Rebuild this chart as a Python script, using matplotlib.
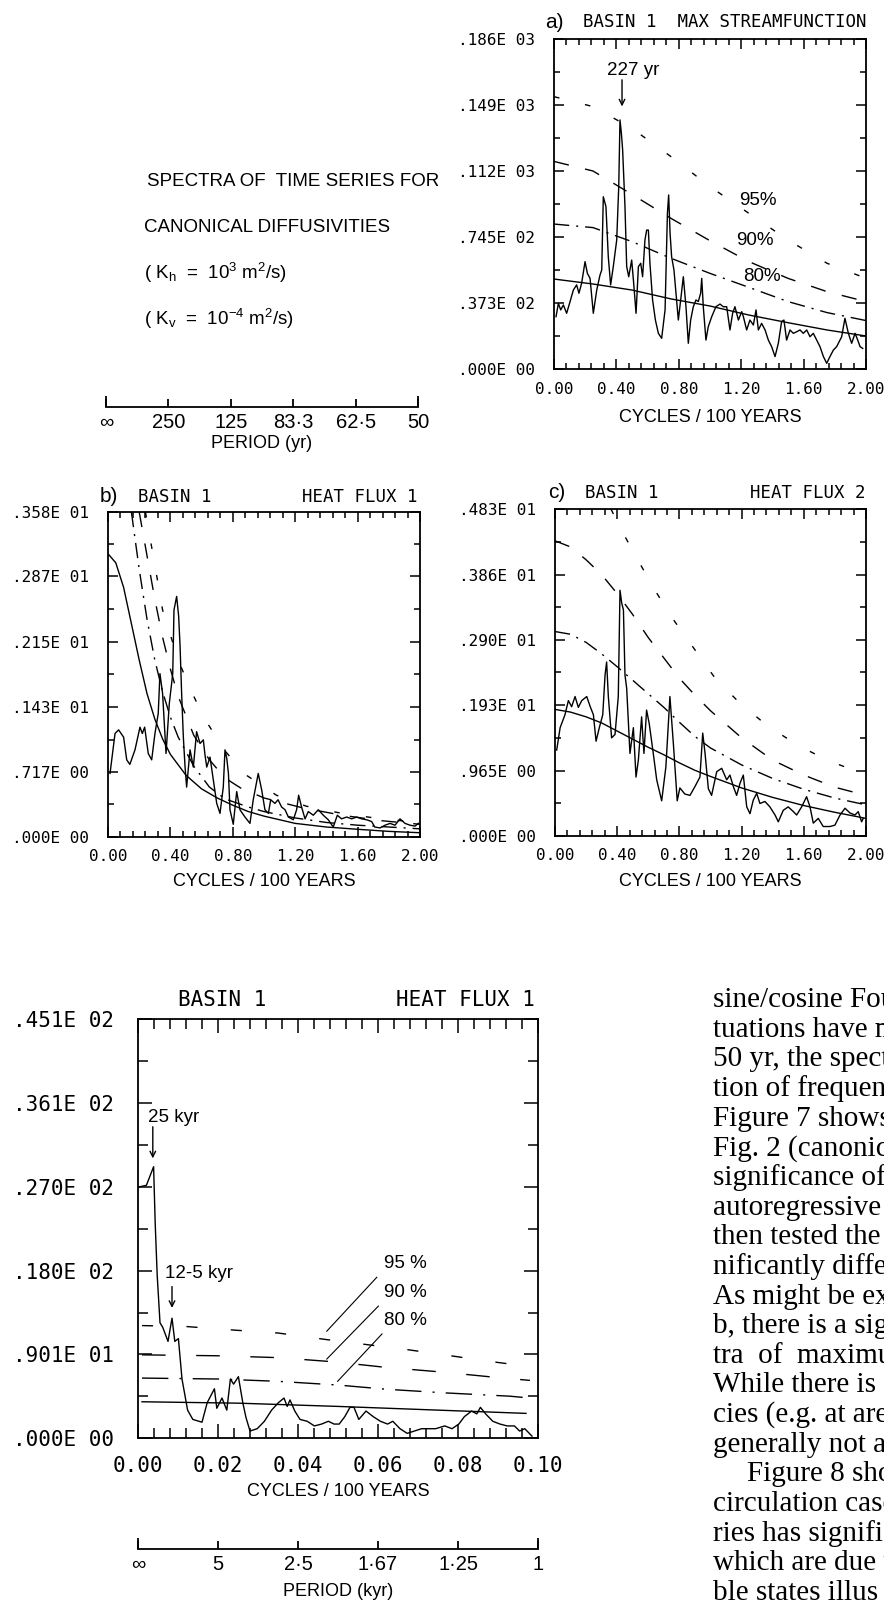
import matplotlib
matplotlib.use("Agg")
import matplotlib.pyplot as plt
from matplotlib.ticker import FixedLocator, FixedFormatter, MultipleLocator, FormatStrFormatter

plt.rcParams['lines.scale_dashes'] = False
plt.rcParams['mathtext.default'] = 'regular'
plt.rcParams['axes.linewidth'] = 1.3

W, H = 884, 1604
MONO = 'DejaVu Sans Mono'
SANS = ['Liberation Sans', 'DejaVu Sans']
SERIF = 'Liberation Serif'

# ---------------- panel a : max streamfunction ----------------
a_freq = [0.013, 0.028, 0.043, 0.060, 0.081, 0.103, 0.124, 0.145, 0.160, 0.177,
          0.199, 0.214, 0.231, 0.252, 0.274, 0.295, 0.306, 0.316, 0.333, 0.348,
          0.363, 0.380, 0.402, 0.415, 0.423, 0.432, 0.440, 0.455, 0.466, 0.479,
          0.498, 0.509, 0.526, 0.541, 0.556, 0.568, 0.583, 0.594, 0.605, 0.615,
          0.632, 0.650, 0.669, 0.690, 0.712, 0.727, 0.735, 0.744, 0.754, 0.769,
          0.782, 0.797, 0.812, 0.829, 0.846, 0.861, 0.876, 0.893, 0.910, 0.925,
          0.940, 0.947, 0.957, 0.974, 0.989, 1.011, 1.038, 1.064, 1.085, 1.107,
          1.128, 1.145, 1.160, 1.182, 1.203, 1.214, 1.235, 1.256, 1.278, 1.295,
          1.310, 1.331, 1.353, 1.374, 1.395, 1.417, 1.438, 1.459, 1.474, 1.491,
          1.513, 1.534, 1.556, 1.577, 1.598, 1.620, 1.641, 1.662, 1.684, 1.705,
          1.727, 1.748, 1.769, 1.791, 1.812, 1.844, 1.865, 1.887, 1.908, 1.930,
          1.947, 1.962, 1.979]
a_power = [29.5, 37.0, 33.3, 36.1, 31.4, 38.0, 44.5, 47.4, 42.7, 48.3,
           60.5, 53.9, 51.1, 31.4, 44.5, 53.0, 55.8, 97.1, 91.5, 63.3,
           47.4, 57.7, 72.7, 102.8, 140.4, 132.8, 123.5, 91.5, 57.7, 52.0,
           61.4, 50.2, 31.4, 57.7, 59.6, 52.0, 72.7, 78.3, 78.3, 59.6,
           38.9, 27.6, 20.1, 17.3, 33.3, 87.7, 98.1, 76.5, 63.3, 55.8,
           42.7, 27.6, 38.9, 52.0, 35.1, 14.5, 27.6, 35.1, 38.9, 38.0,
           42.7, 51.1, 35.1, 16.3, 23.9, 29.5, 35.1, 36.6, 35.1, 35.1,
           22.0, 31.4, 35.1, 27.6, 32.3, 29.5, 22.0, 27.6, 24.8, 33.3,
           22.0, 25.7, 22.0, 16.3, 12.6, 7.0, 14.5, 26.7, 27.6, 16.3,
           22.0, 20.1, 21.0, 22.0, 20.1, 22.0, 18.2, 20.1, 16.3, 12.6,
           7.0, 3.2, 7.0, 10.7, 12.6, 18.2, 28.6, 20.1, 14.5, 20.1,
           16.3, 12.6, 11.6]
a_ref_f = [0.0, 0.25, 0.5, 0.75, 1.0, 1.25, 1.5, 1.75, 2.0]
a_fit = [50.7, 47.9, 44.5, 39.5, 35.5, 30.4, 26.1, 22.0, 18.6]
a_80 = [81.7, 79.7, 71.8, 62.4, 53.9, 46.0, 38.0, 31.8, 27.3]
a_90 = [117.0, 111.6, 98.4, 84.9, 72.3, 60.5, 51.1, 43.6, 38.0]
a_95 = [153.5, 147.9, 135.6, 119.7, 102.8, 87.7, 72.7, 59.6, 51.1]
a_yticks = [0.0, 37.3, 74.5, 111.8, 149.0, 186.0]
a_ylabels = ['.000E 00', '.373E 02', '.745E 02', '.112E 03', '.149E 03', '.186E 03']

# ---------------- panel b : heat flux 1 ----------------
b_freq = [0.013, 0.045, 0.068, 0.100, 0.120, 0.140, 0.173, 0.205, 0.220, 0.235,
          0.258, 0.280, 0.301, 0.322, 0.333, 0.350, 0.372, 0.393, 0.415, 0.423,
          0.440, 0.453, 0.462, 0.472, 0.483, 0.494, 0.504, 0.526, 0.547, 0.568,
          0.590, 0.611, 0.622, 0.633, 0.654, 0.675, 0.697, 0.718, 0.739, 0.750,
          0.761, 0.772, 0.782, 0.803, 0.825, 0.846, 0.878, 0.910, 0.931, 0.963,
          0.985, 1.006, 1.028, 1.043, 1.070, 1.090, 1.113, 1.135, 1.156, 1.188,
          1.209, 1.222, 1.241, 1.263, 1.284, 1.316, 1.348, 1.380, 1.412, 1.444,
          1.470, 1.497, 1.530, 1.562, 1.594, 1.626, 1.658, 1.690, 1.710, 1.744,
          1.776, 1.808, 1.840, 1.872, 1.904, 1.936, 1.968, 1.990]
b_power = [0.70, 1.14, 1.18, 1.10, 0.85, 0.80, 0.96, 1.21, 1.14, 1.21,
           0.92, 0.85, 1.14, 1.36, 1.80, 1.58, 0.92, 1.47, 1.80, 2.50,
           2.65, 2.43, 2.10, 1.58, 1.10, 0.77, 0.55, 0.96, 0.77, 1.16,
           1.03, 1.07, 0.90, 0.77, 0.88, 0.63, 0.37, 0.26, 0.55, 0.96,
           0.87, 0.70, 0.30, 0.14, 0.50, 0.30, 0.22, 0.15, 0.41, 0.70,
           0.52, 0.30, 0.26, 0.41, 0.37, 0.41, 0.33, 0.30, 0.22, 0.19,
           0.30, 0.46, 0.33, 0.20, 0.28, 0.24, 0.30, 0.24, 0.19, 0.11,
           0.24, 0.20, 0.22, 0.20, 0.22, 0.20, 0.19, 0.17, 0.11, 0.10,
           0.13, 0.15, 0.13, 0.20, 0.15, 0.13, 0.12, 0.15]
b_fit_f = [0.0, 0.05, 0.1, 0.15, 0.2, 0.25, 0.3, 0.35, 0.4, 0.5, 0.6, 0.7, 0.8,
           0.9, 1.0, 1.2, 1.4, 1.6, 1.8, 2.0]
b_fit = [3.12, 3.02, 2.75, 2.35, 1.95, 1.58, 1.30, 1.08, 0.91, 0.68, 0.53, 0.43, 0.35,
         0.28, 0.23, 0.15, 0.11, 0.085, 0.062, 0.047]
b_80_f = [0.15, 0.2, 0.25, 0.3, 0.35, 0.4, 0.45, 0.55, 0.65, 0.75, 0.9, 1.0, 1.2, 1.4, 1.6, 1.8, 2.0]
b_80 = [3.58, 2.95, 2.40, 1.95, 1.60, 1.32, 1.10, 0.78, 0.55, 0.42, 0.33, 0.28, 0.21, 0.16, 0.13, 0.11, 0.09]
b_90_f = [0.2, 0.25, 0.3, 0.35, 0.4, 0.45, 0.55, 0.65, 0.75, 0.85, 1.0, 1.25, 1.5, 1.75, 2.0]
b_90 = [3.58, 3.10, 2.62, 2.20, 1.85, 1.55, 1.12, 0.85, 0.65, 0.54, 0.43, 0.32, 0.24, 0.18, 0.14]
b_95_f = [0.24, 0.31, 0.35, 0.45, 0.53, 0.62, 0.75, 0.87, 1.08, 1.27, 1.5, 1.75, 2.0]
b_95 = [3.58, 2.90, 2.50, 1.95, 1.62, 1.30, 0.95, 0.70, 0.46, 0.34, 0.26, 0.20, 0.16]
b_yticks = [0.0, 0.717, 1.43, 2.15, 2.87, 3.58]
b_ylabels = ['.000E 00', '.717E 00', '.143E 01', '.215E 01', '.287E 01', '.358E 01']

# ---------------- panel c : heat flux 2 ----------------
c_freq = [0.011, 0.033, 0.064, 0.086, 0.107, 0.129, 0.150, 0.172, 0.204, 0.225,
          0.247, 0.264, 0.285, 0.307, 0.322, 0.332, 0.343, 0.364, 0.386, 0.407,
          0.418, 0.429, 0.440, 0.450, 0.461, 0.482, 0.504, 0.521, 0.536, 0.557,
          0.572, 0.589, 0.606, 0.632, 0.654, 0.686, 0.713, 0.739, 0.761, 0.786,
          0.803, 0.835, 0.868, 0.900, 0.932, 0.950, 0.965, 0.986, 1.007, 1.040,
          1.072, 1.104, 1.125, 1.147, 1.168, 1.190, 1.211, 1.233, 1.254, 1.275,
          1.297, 1.318, 1.350, 1.382, 1.415, 1.436, 1.468, 1.500, 1.533, 1.554,
          1.586, 1.618, 1.640, 1.661, 1.693, 1.725, 1.768, 1.800, 1.833, 1.865,
          1.897, 1.929, 1.950, 1.972, 1.982]
c_power = [1.27, 1.60, 1.79, 2.00, 1.91, 2.06, 1.90, 2.00, 2.06, 1.92,
           1.79, 1.40, 1.60, 1.79, 2.38, 2.57, 2.06, 1.45, 1.50, 2.06,
           3.63, 3.44, 3.34, 2.38, 2.18, 1.22, 1.60, 0.87, 1.12, 1.76,
           1.22, 1.86, 1.66, 1.22, 0.83, 0.52, 1.02, 2.06, 1.37, 0.52,
           0.71, 0.62, 0.60, 0.73, 0.87, 1.52, 1.22, 0.70, 0.60, 0.95,
           1.00, 0.83, 0.90, 0.73, 0.60, 0.78, 0.90, 0.43, 0.33, 0.53,
           0.63, 0.48, 0.51, 0.43, 0.31, 0.21, 0.38, 0.43, 0.36, 0.31,
           0.43, 0.58, 0.43, 0.19, 0.26, 0.14, 0.14, 0.16, 0.31, 0.41,
           0.34, 0.31, 0.36, 0.21, 0.26]
c_ref_f = [0.0, 0.1, 0.2, 0.3, 0.4, 0.5, 0.6, 0.7, 0.8, 0.9, 1.0, 1.2, 1.4, 1.6, 1.8, 2.0]
c_fit = [1.87, 1.83, 1.76, 1.67, 1.55, 1.43, 1.31, 1.20, 1.08, 0.97, 0.88, 0.71, 0.57, 0.45, 0.35, 0.26]
c_80 = [3.02, 2.98, 2.86, 2.69, 2.50, 2.30, 2.10, 1.90, 1.68, 1.47, 1.30, 1.05, 0.85, 0.69, 0.56, 0.46]
c_90 = [4.36, 4.27, 4.08, 3.86, 3.58, 3.27, 2.93, 2.63, 2.33, 2.08, 1.85, 1.45, 1.12, 0.90, 0.72, 0.60]
c_95_f = [0.36, 0.41, 0.52, 0.64, 0.76, 0.90, 1.03, 1.19, 1.37, 1.57, 1.76, 1.96, 2.0]
c_95 = [4.83, 4.59, 4.13, 3.64, 3.20, 2.75, 2.33, 1.96, 1.62, 1.33, 1.11, 0.94, 0.91]
c_yticks = [0.0, 0.965, 1.93, 2.90, 3.86, 4.83]
c_ylabels = ['.000E 00', '.965E 00', '.193E 01', '.290E 01', '.386E 01', '.483E 01']

# ---------------- bottom panel : long run, heat flux 1 ----------------
d_freq = [0.0, 0.0021, 0.0039, 0.0043, 0.0048, 0.0055, 0.0062, 0.0075, 0.0085, 0.0092,
          0.0101, 0.0110, 0.0124, 0.0137, 0.0160, 0.0173, 0.0191, 0.0197, 0.0210, 0.0222,
          0.0231, 0.0239, 0.0251, 0.0262, 0.0270, 0.0280, 0.0298, 0.0316, 0.0334, 0.0351,
          0.0365, 0.0373, 0.0380, 0.0392, 0.0405, 0.0423, 0.0441, 0.0459, 0.0476, 0.0490,
          0.0503, 0.0517, 0.0530, 0.0540, 0.0552, 0.0570, 0.0588, 0.0606, 0.0624, 0.0637,
          0.0655, 0.0673, 0.0691, 0.0709, 0.0727, 0.0744, 0.0767, 0.0785, 0.0802, 0.0816,
          0.0834, 0.0847, 0.0856, 0.0869, 0.0887, 0.0905, 0.0923, 0.0941, 0.0954, 0.0967,
          0.0985]
d_power = [27.0, 27.2, 29.2, 23.1, 17.5, 12.4, 11.9, 10.4, 12.9, 10.4,
           10.7, 6.35, 3.0, 2.0, 1.7, 3.8, 5.3, 3.2, 4.3, 3.0,
           6.35, 5.8, 6.6, 3.8, 2.2, 0.75, 1.0, 1.8, 3.0, 3.8,
           4.3, 3.4, 4.1, 2.9, 2.0, 1.8, 1.3, 1.5, 1.8, 1.5,
           1.5, 2.3, 3.3, 3.3, 2.0, 2.9, 2.3, 1.8, 1.5, 1.8,
           1.0, 0.5, 0.75, 1.0, 1.0, 1.0, 1.3, 1.0, 1.5, 2.3,
           2.9, 2.6, 3.3, 2.6, 1.8, 1.5, 1.3, 1.3, 0.75, 1.0,
           0.2]
d_fit_f = [0.001, 0.025, 0.05, 0.075, 0.097]
d_fit = [3.9, 3.75, 3.4, 3.0, 2.65]
d_80_f = [0.001, 0.02, 0.035, 0.05, 0.062, 0.077, 0.093, 0.098]
d_80 = [6.45, 6.35, 6.1, 5.7, 5.25, 4.85, 4.5, 4.3]
d_90_f = [0.001, 0.02, 0.035, 0.049, 0.062, 0.076, 0.09, 0.098]
d_90 = [8.95, 8.85, 8.65, 8.2, 7.6, 7.1, 6.5, 6.2]
d_95_f = [0.001, 0.012, 0.0245, 0.035, 0.047, 0.0675, 0.079, 0.0905, 0.098]
d_95 = [12.1, 12.0, 11.6, 11.3, 10.6, 9.5, 8.8, 8.1, 7.7]
d_yticks = [0.0, 9.01, 18.0, 27.0, 36.1, 45.1]
d_ylabels = ['.000E 00', '.901E 01', '.180E 02', '.270E 02', '.361E 02', '.451E 02']

# period scales
yr_ticks = [0.0, 0.4, 0.8, 1.2, 1.6, 2.0]
yr_labels = ['\u221e', '250', '125', '83\u00b73', '62\u00b75', '50']
kyr_ticks = [0.0, 0.02, 0.04, 0.06, 0.08, 0.10]
kyr_labels = ['\u221e', '5', '2\u00b75', '1\u00b767', '1\u00b725', '1']

column = ['sine/cosine Fou', 'tuations have m', '50 yr, the spect', 'tion of frequen',
          'Figure 7 shows', 'Fig. 2 (canonic', 'significance of', 'autoregressive',
          'then tested the', 'nificantly differ', 'As might be ex', 'b, there is a sig',
          'tra  of  maximu', 'While there is a', 'cies (e.g. at are', 'generally not a',
          'Figure 8 sho', 'circulation case', 'ries has signific', 'which are due t',
          'ble states illus']

fig = plt.figure(figsize=(W / 100, H / 100), dpi=100)


def rect(l, t, r, b):
    return [l / W, 1 - b / H, (r - l) / W, (b - t) / H]


def put(x, y, s, **kw):
    fig.text(x / W, 1 - y / H, s, **kw)


def panel(box, xmax, xmaj, xmin, yvals, ylabels, fs, big=False):
    ax = fig.add_axes(rect(*box))
    ax.set_xlim(0, xmax)
    ax.set_ylim(0, yvals[-1])
    ax.xaxis.set_major_locator(MultipleLocator(xmaj))
    ax.xaxis.set_minor_locator(MultipleLocator(xmin))
    ax.xaxis.set_major_formatter(FormatStrFormatter('%.2f'))
    ax.yaxis.set_major_locator(FixedLocator(yvals))
    ax.yaxis.set_major_formatter(FixedFormatter(ylabels))
    mids = [(p + q) / 2 for p, q in zip(yvals[:-1], yvals[1:])]
    ax.yaxis.set_minor_locator(FixedLocator(mids))
    ax.tick_params(which='both', direction='in', top=True, right=True, width=1.1,
                   labelsize=fs, labelfontfamily=MONO)
    if big:
        ax.tick_params(which='major', length=10)
        ax.tick_params(which='minor', length=7.5)
        ax.tick_params(axis='x', pad=13)
        ax.tick_params(axis='y', pad=17)
    else:
        ax.tick_params(which='major', length=7)
        ax.tick_params(which='minor', length=4.5)
        ax.tick_params(axis='x', pad=9)
        ax.tick_params(axis='y', pad=14)
    return ax


def period_axis(l, r, yline, xmax, ticks, labels):
    ax = fig.add_axes(rect(l, yline - 20, r, yline))
    ax.set_xlim(0, xmax)
    ax.set_ylim(0, 1)
    for s in ['top', 'left', 'right']:
        ax.spines[s].set_visible(False)
    ax.patch.set_visible(False)
    ax.set_yticks([])
    ax.set_xticks(ticks)
    ax.set_xticklabels(labels, family=SANS, fontsize=14.5)
    ax.set_xticks([ticks[0], ticks[-1]], minor=True)
    ax.xaxis.remove_overlapping_locs = False
    ax.tick_params(axis='x', which='major', direction='in', length=6, width=1.3, pad=4)
    ax.tick_params(axis='x', which='minor', direction='in', length=8, width=1.3)
    return ax


lw = 1.0
D95 = (0, (4, 19))
D90 = (0, (11, 12))
D80 = (0, (11, 5, 1.5, 5))

# ---- panel a
ax = panel((554, 39, 866, 369), 2.0, 0.4, 0.08, a_yticks, a_ylabels, 11.5)
ax.plot(a_freq, a_power, color='k', lw=lw)
ax.plot(a_ref_f, a_fit, color='k', lw=lw)
ax.plot(a_ref_f, a_80, color='k', lw=lw, ls=D80)
ax.plot(a_ref_f, a_90, color='k', lw=lw, ls=D90)
ax.plot(a_ref_f, a_95, color='k', lw=lw, ls=D95)
ax.text(0.51, 168.5, '227 yr', ha='center', va='center', fontsize=13.5, family=SANS)
ax.annotate('', xy=(0.436, 148), xytext=(0.436, 163),
            arrowprops=dict(arrowstyle='->', lw=1.0, color='k', shrinkA=0, shrinkB=0))
ax.text(1.31, 95.2, '95%', ha='center', va='center', fontsize=13.5, family=SANS)
ax.text(1.29, 72.7, '90%', ha='center', va='center', fontsize=13.5, family=SANS)
ax.text(1.33, 51.9, '80%', ha='center', va='center', fontsize=13.5, family=SANS)
put(545, 22, 'a)', fontsize=15, family=SANS, va='center')
put(583, 22, 'BASIN 1  MAX STREAMFUNCTION', fontsize=12.5, family=MONO, va='center')
put(710, 417, 'CYCLES / 100 YEARS', fontsize=13, family=SANS, ha='center', va='center')

# ---- panel b
ax = panel((108, 512, 420, 837), 2.0, 0.4, 0.08, b_yticks, b_ylabels, 11.5)
ax.plot(b_freq, b_power, color='k', lw=lw)
ax.plot(b_fit_f, b_fit, color='k', lw=lw)
ax.plot(b_80_f, b_80, color='k', lw=lw, ls=D80)
ax.plot(b_90_f, b_90, color='k', lw=lw, ls=D90)
ax.plot(b_95_f, b_95, color='k', lw=lw, ls=D95)
put(100, 497, 'b)', fontsize=15, family=SANS, va='center')
put(138, 497, 'BASIN 1', fontsize=12.5, family=MONO, va='center')
put(417, 497, 'HEAT FLUX 1', fontsize=12.5, family=MONO, va='center', ha='right')
put(264, 882, 'CYCLES / 100 YEARS', fontsize=13, family=SANS, ha='center', va='center')

# ---- panel c
ax = panel((555, 509, 866, 836), 2.0, 0.4, 0.08, c_yticks, c_ylabels, 11.5)
ax.plot(c_freq, c_power, color='k', lw=lw)
ax.plot(c_ref_f, c_fit, color='k', lw=lw)
ax.plot(c_ref_f, c_80, color='k', lw=lw, ls=D80)
ax.plot(c_ref_f, c_90, color='k', lw=lw, ls=D90)
ax.plot(c_95_f, c_95, color='k', lw=lw, ls=D95)
put(548, 493, 'c)', fontsize=15, family=SANS, va='center')
put(585, 493, 'BASIN 1', fontsize=12.5, family=MONO, va='center')
put(866, 493, 'HEAT FLUX 2', fontsize=12.5, family=MONO, va='center', ha='right')
put(710, 882, 'CYCLES / 100 YEARS', fontsize=13, family=SANS, ha='center', va='center')

# ---- bottom panel
ax = panel((138, 1019, 538, 1438), 0.10, 0.02, 0.004, d_yticks, d_ylabels, 15, big=True)
ax.plot(d_freq, d_power, color='k', lw=lw)
ax.plot(d_fit_f, d_fit, color='k', lw=lw)
ax.plot(d_80_f, d_80, color='k', lw=lw, ls=(0, (19, 8, 1.5, 8)))
ax.plot(d_90_f, d_90, color='k', lw=lw, ls=(0, (17, 22)))
ax.plot(d_95_f, d_95, color='k', lw=lw, ls=(0, (8, 24)))
ax.text(0.0025, 34.5, '25 kyr', ha='left', va='center', fontsize=13.5, family=SANS)
ax.annotate('', xy=(0.0037, 30.1), xytext=(0.0037, 33.5),
            arrowprops=dict(arrowstyle='->', lw=1.0, color='k', shrinkA=0, shrinkB=0))
ax.text(0.0068, 17.7, '12-5 kyr', ha='left', va='center', fontsize=13.5, family=SANS)
ax.annotate('', xy=(0.0085, 14.0), xytext=(0.0085, 16.3),
            arrowprops=dict(arrowstyle='->', lw=1.0, color='k', shrinkA=0, shrinkB=0))
ax.text(0.0668, 18.8, '95 %', ha='center', va='center', fontsize=13.5, family=SANS)
ax.text(0.0668, 15.7, '90 %', ha='center', va='center', fontsize=13.5, family=SANS)
ax.text(0.0668, 12.7, '80 %', ha='center', va='center', fontsize=13.5, family=SANS)
ax.plot([0.0597, 0.0472], [17.3, 11.5], color='k', lw=0.8)
ax.plot([0.0601, 0.0472], [14.2, 8.5], color='k', lw=0.8)
ax.plot([0.0610, 0.0499], [11.2, 6.1], color='k', lw=0.8)
put(178, 1000, 'BASIN 1', fontsize=15, family=MONO, va='center')
put(535, 1000, 'HEAT FLUX 1', fontsize=15, family=MONO, va='center', ha='right')
put(338, 1491, 'CYCLES / 100 YEARS', fontsize=13, family=SANS, ha='center', va='center')

# ---- period scales
period_axis(106, 418, 407, 2.0, yr_ticks, yr_labels)
put(262, 443, 'PERIOD (yr)', fontsize=13, family=SANS, ha='center', va='center')
period_axis(138, 538, 1549, 0.10, kyr_ticks, kyr_labels)
put(338, 1592, 'PERIOD (kyr)', fontsize=13, family=SANS, ha='center', va='center')

# ---- caption block
put(147, 182, 'SPECTRA OF  TIME SERIES FOR', fontsize=13.5, family=SANS, va='center')
put(144, 227, 'CANONICAL DIFFUSIVITIES', fontsize=13.5, family=SANS, va='center')
put(144, 273, '( K$_h$  =  10$^3$ m$^2$/s)', fontsize=13.5, family=SANS, va='center')
put(144, 319, '( K$_v$  =  10$^{-4}$ m$^2$/s)', fontsize=13.5, family=SANS, va='center')

# ---- running text of the page (cut by the right edge as in the scan)
for i, line in enumerate(column):
    x = 747 if i == 16 else 713
    put(x, 999 + i * 29.65 + 8, line, fontsize=21, family=SERIF, va='baseline')

fig.savefig('out.png', dpi=100)
